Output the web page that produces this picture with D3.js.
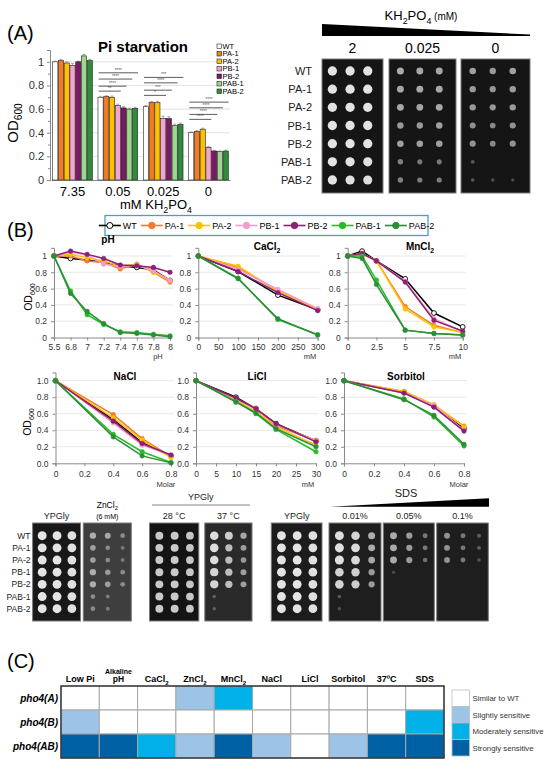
<!DOCTYPE html>
<html>
<head>
<meta charset="utf-8">
<script src="https://cdn.jsdelivr.net/npm/d3@7"></script>
<style>
body { margin: 0; background: #fff; }
svg { display: block; font-family: "Liberation Sans", Arial, sans-serif; }
</style>
</head>
<body>
<svg id="fig" width="550" height="764"></svg>
<script>
// ---- data ----
const strains = ["WT", "PA-1", "PA-2", "PB-1", "PB-2", "PAB-1", "PAB-2"];
const barColors = ["#ffffff", "#f47b20", "#ffc000", "#f5a3d2", "#7a1a63", "#9dd68f", "#2f8c3c"];
const lineColors = ["#000000", "#f47b2c", "#ffc000", "#f59bcd", "#8e1f74", "#22bf22", "#2e8b3a"];

// (A) Pi starvation, OD600 per KH2PO4 level (rows) and strain (cols)
const piGroups = ["7.35", "0.05", "0.025", "0"];
const piOD = [
  [1.00, 1.01, 0.99, 0.97, 1.00, 1.05, 1.01],
  [0.70, 0.705, 0.70, 0.63, 0.61, 0.60, 0.605],
  [0.62, 0.655, 0.655, 0.52, 0.52, 0.46, 0.47],
  [0.40, 0.41, 0.43, 0.275, 0.245, 0.24, 0.245]
];
const piErr = [
  [0.005, 0.01, 0.01, 0.015, 0.005, 0.012, 0.01],
  [0.008, 0.008, 0.01, 0.012, 0.01, 0.008, 0.01],
  [0.01, 0.01, 0.012, 0.02, 0.015, 0.012, 0.012],
  [0.006, 0.008, 0.008, 0.008, 0.006, 0.006, 0.008]
];
const piTicks = [0, 0.2, 0.4, 0.6, 0.8, 1];
const sigTargets = [3, 4, 5, 6];   // WT vs PB-1, PB-2, PAB-1, PAB-2
const sigHeights = [[], [0.752, 0.794, 0.854, 0.907], [0.716, 0.76, 0.822, 0.868], [0.513, 0.555, 0.611, 0.659]];
const sigLabels = [[], ["**", "****", "****", "****"], ["*", "***", "****", "***"], ["****", "****", "****", "****"]];

// (A) spot plates, growth score 0..1 per strain x dilution
const kh2po4Plates = ["2", "0.025", "0"];
const kh2po4Growth = [
  [[.95, .95, .95], [.95, .95, .95], [.95, .95, .95], [.95, .95, .95], [.95, .95, .95], [.95, .95, .93], [.95, .93, .92]],
  [[.62, .6, .6], [.6, .6, .6], [.6, .58, .6], [.52, .52, .55], [.55, .55, .55], [.38, .33, .33], [.38, .35, .35]],
  [[.55, .52, .56], [.52, .5, .53], [.52, .5, .52], [.46, .42, .48], [.48, .42, .48], [.15, 0, 0], [.12, .08, .06]]
];

// (B) growth curves
const phLevels = ["5.5", "6.8", "7", "7.2", "7.4", "7.6", "7.8", "8"];
const phOD = [
  [1, 0.97, 0.95, 0.92, 0.88, 0.86, 0.83, 0.70],
  [1, 1.00, 0.94, 0.92, 0.84, 0.90, 0.80, 0.68],
  [1, 1.02, 0.98, 0.94, 0.87, 0.90, 0.80, 0.70],
  [1, 1.05, 1.01, 0.90, 0.87, 0.89, 0.82, 0.70],
  [1, 1.06, 1.02, 0.97, 0.89, 0.88, 0.86, 0.80],
  [1, 0.57, 0.28, 0.16, 0.07, 0.06, 0.04, 0.02],
  [1, 0.54, 0.32, 0.17, 0.06, 0.05, 0.03, 0.01]
];
const cacl2mM = [0, 100, 200, 300];
const cacl2OD = [
  [1, 0.81, 0.52, 0.34], [1, 0.86, 0.57, 0.34], [1, 0.875, 0.57, 0.35], [1, 0.835, 0.59, 0.355],
  [1, 0.81, 0.55, 0.33], [1, 0.73, 0.22, 0.035], [1, 0.72, 0.23, 0.03]
];
const mncl2mM = [0, 1.25, 2.5, 5, 7.5, 10];
const mncl2OD = [
  [1, 1.06, 0.94, 0.72, 0.30, 0.13],
  [1, 1.03, 0.94, 0.38, 0.15, 0.06],
  [1, 1.02, 0.94, 0.35, 0.13, 0.06],
  [1, 1.03, 0.94, 0.69, 0.23, 0.07],
  [1, 1.03, 0.94, 0.68, 0.21, 0.08],
  [1, 1.00, 0.705, 0.09, 0.05, 0.03],
  [1, 0.97, 0.65, 0.09, 0.05, 0.03]
];
const naclM = [0, 0.4, 0.6, 0.8];
const naclOD = [
  [1, 0.53, 0.25, 0.09], [1, 0.59, 0.30, 0.08], [1, 0.55, 0.28, 0.07], [1, 0.49, 0.22, 0.10],
  [1, 0.51, 0.24, 0.10], [1, 0.35, 0.14, 0.01], [1, 0.32, 0.09, 0.005]
];
const liclmM = [0, 10, 15, 20, 30];
const liclOD = [
  [1, 0.80, 0.66, 0.48, 0.27], [1, 0.77, 0.67, 0.45, 0.28], [1, 0.76, 0.63, 0.44, 0.22], [1, 0.78, 0.66, 0.47, 0.27],
  [1, 0.79, 0.66, 0.48, 0.26], [1, 0.75, 0.60, 0.41, 0.14], [1, 0.74, 0.61, 0.42, 0.20]
];
const sorbitolM = [0, 0.4, 0.6, 0.8];
const sorbitolOD = [
  [1, 0.86, 0.69, 0.42], [1, 0.87, 0.70, 0.45], [1, 0.87, 0.71, 0.44], [1, 0.85, 0.70, 0.40],
  [1, 0.85, 0.68, 0.39], [1, 0.78, 0.56, 0.21], [1, 0.77, 0.58, 0.23]
];

// (B) stress spot plates
const stressPlates = ["YPGly", "ZnCl2", "28 °C", "37 °C", "YPGly", "0.01%", "0.05%", "0.1%"];
const full = [.95, .95, .93];
const stressGrowth = [
  [full, full, full, full, full, full, full],
  [[.55, .5, .3], [.45, .3, .18], [.45, .3, .18], [.55, .42, .3], [.55, .45, .3], [.3, .18, 0], [.3, .18, 0]],
  [[.8, .8, .78], [.8, .8, .78], [.8, .8, .78], [.8, .8, .78], [.8, .8, .78], [.8, .8, .78], [.8, .8, .78]],
  [[.9, .8, .55], [.9, .7, .5], [.9, .7, .45], [.85, .7, .5], [.85, .7, .5], [.1, 0, 0], [.1, 0, 0]],
  [full, full, full, full, full, full, full],
  [[.9, .85, .62], [.92, .88, .6], [.92, .88, .58], [.85, .82, .5], [.85, .8, .5], [.1, 0, 0], [.06, 0, 0]],
  [[.6, .5, .3], [.6, .5, .3], [.6, .5, .25], [.04, 0, 0], [0, 0, 0], [0, 0, 0], [0, 0, 0]],
  [[.45, .3, .15], [.45, .3, .15], [.45, .3, .1], [0, 0, 0], [0, 0, 0], [0, 0, 0], [0, 0, 0]]
];

// (C) sensitivity summary
const hmRows = ["pho4(A)", "pho4(B)", "pho4(AB)"];
const hmCols = ["Low Pi", "Alkaline pH", "CaCl2", "ZnCl2", "MnCl2", "NaCl", "LiCl", "Sorbitol", "37ºC", "SDS"];
const hmLevels = [
  [0, 0, 0, 1, 2, 0, 0, 0, 0, 0],
  [1, 0, 0, 0, 0, 0, 0, 0, 0, 2],
  [3, 3, 2, 1, 3, 1, 0, 1, 3, 3]
];
const hmLegend = ["Similar to WT", "Slightly sensitive", "Moderately sensitive", "Strongly sensitive"];

// ---- helpers ----
const svg = d3.select("#fig");
svg.append("rect").attr("width", 550).attr("height", 764).attr("fill", "#fff");

// split chemical names so digits become subscripts
function chem(s) {
  return s.split(/(\d+)/).filter(p => p.length).map(p => /^\d+$/.test(p) ? "_" + p : p);
}
function rich(t, parts, size) {
  parts.forEach((p, i) => {
    const sub = p.startsWith("_");
    const ts = t.append("tspan").text(sub ? p.slice(1) : p);
    if (sub) ts.attr("font-size", size * 0.68).attr("dy", size * 0.28);
    else if (i > 0 && parts[i - 1].startsWith("_")) ts.attr("dy", -size * 0.28);
  });
  return t;
}
function label(g, x, y, txt, size, opts = {}) {
  const t = g.append("text").attr("x", x).attr("y", y).attr("font-size", size)
    .attr("text-anchor", opts.anchor || "middle").attr("fill", opts.fill || "#000");
  if (opts.bold) t.attr("font-weight", "bold");
  if (opts.italic) t.attr("font-style", "italic");
  if (opts.parts) rich(t, opts.parts, size); else t.text(txt);
  return t;
}
function styleAxis(a, size) {
  a.select(".domain").attr("stroke", "#8a8a8a");
  a.selectAll(".tick line").attr("stroke", "#8a8a8a");
  a.selectAll(".tick text").attr("font-size", size).attr("fill", "#333")
    .attr("font-family", "'Liberation Sans', Arial, sans-serif");
}

const spotShade = d3.scaleLinear().domain([0, 1]).range([0.2, 1]);
function drawPlate(g, x0, x1, y0, y1, rows, grid, bg, rmax, frac) {
  g.append("rect").attr("x", x0).attr("y", y0).attr("width", x1 - x0).attr("height", y1 - y0)
    .attr("fill", bg).attr("stroke", "#7a7a7a").attr("stroke-width", 1);
  const cx = d3.scalePoint().domain([0, 1, 2]).range([x0 + frac[0] * (x1 - x0), x0 + frac[1] * (x1 - x0)]);
  const r = d3.scaleLinear().domain([0, 1]).range([0.3 * rmax, rmax]);
  const spots = grid.flatMap((row, ri) => row.map((v, ci) => ({ ri, ci, v }))).filter(d => d.v > 0);
  g.selectAll(null).data(spots).join("circle")
    .attr("cx", d => cx(d.ci)).attr("cy", d => rows(strains[d.ri]))
    .attr("r", d => r(d.v))
    .attr("fill", d => d3.interpolateRgb(bg, "#ececec")(spotShade(d.v)));
}

// ---- panel labels ----
label(svg, 7, 40, "(A)", 20, { anchor: "start" });
label(svg, 7, 237, "(B)", 20, { anchor: "start" });
label(svg, 7, 668, "(C)", 20, { anchor: "start" });

// ---- (A) bar chart ----
const gA = svg.append("g");
const bx = d3.scaleBand().domain(piGroups).range([51, 230]).paddingInner(0.11).paddingOuter(0.03);
const bIn = d3.scaleBand().domain(strains).range([0, bx.bandwidth()]);
const by = d3.scaleLinear().domain([0, 1.1]).range([180, 50]);

gA.selectAll(null).data(piTicks.slice(1)).join("line")
  .attr("x1", 50).attr("x2", 230).attr("y1", d => by(d)).attr("y2", d => by(d))
  .attr("stroke", "#dcdcdc").attr("stroke-width", 0.8);

const yA = gA.append("g").attr("transform", "translate(50,0)")
  .call(d3.axisLeft(by).tickValues(piTicks).tickFormat(d3.format(".1~f")).tickSize(3));
styleAxis(yA, 11);
const yAm = gA.append("g").attr("transform", "translate(50,0)")
  .call(d3.axisLeft(by).tickValues([0.1, 0.3, 0.5, 0.7, 0.9, 1.1]).tickFormat("").tickSize(2));
styleAxis(yAm, 11);

const xA = gA.append("g").attr("transform", "translate(0,180)")
  .call(d3.axisBottom(bx).tickSize(0).tickPadding(7));
styleAxis(xA, 13);
xA.selectAll(".tick text").attr("fill", "#000");

const bars = piOD.flatMap((row, gi) => row.map((v, si) => ({ g: piGroups[gi], si, v, e: piErr[gi][si] })));
gA.selectAll(null).data(bars).join("line")
  .attr("x1", d => bx(d.g) + bIn(strains[d.si]) + bIn.bandwidth() / 2)
  .attr("x2", d => bx(d.g) + bIn(strains[d.si]) + bIn.bandwidth() / 2)
  .attr("y1", d => by(d.v)).attr("y2", d => by(d.v + d.e))
  .attr("stroke", "#777").attr("stroke-width", 0.6);
gA.selectAll(null).data(bars).join("line")
  .attr("x1", d => bx(d.g) + bIn(strains[d.si]) + 1.3)
  .attr("x2", d => bx(d.g) + bIn(strains[d.si]) + bIn.bandwidth() - 1.3)
  .attr("y1", d => by(d.v + d.e)).attr("y2", d => by(d.v + d.e))
  .attr("stroke", "#777").attr("stroke-width", 0.6);
gA.selectAll(null).data(bars).join("rect")
  .attr("x", d => bx(d.g) + bIn(strains[d.si]) + 0.3)
  .attr("y", d => by(d.v))
  .attr("width", bIn.bandwidth() - 0.6)
  .attr("height", d => by(0) - by(d.v))
  .attr("fill", d => barColors[d.si]).attr("stroke", "#222").attr("stroke-width", 0.6);

// significance brackets
piGroups.forEach((g, gi) => {
  sigHeights[gi].forEach((h, k) => {
    const xa = bx(g) + bIn("WT") + 1;
    const xb = bx(g) + bIn(strains[sigTargets[k]]) + bIn.bandwidth();
    gA.append("line").attr("x1", xa).attr("x2", xb).attr("y1", by(h)).attr("y2", by(h))
      .attr("stroke", "#333").attr("stroke-width", 0.8);
    label(gA, (xa + xb) / 2, by(h) - 1, sigLabels[gi][k], 4.5, { fill: "#555" });
  });
});

label(gA, 143, 52, "Pi starvation", 15, { bold: true });
label(gA, 156, 209, "", 13, { parts: ["mM KH", "_2", "PO", "_4"] });
label(gA, 0, 0, "", 15, { parts: ["OD", "_600"] }).attr("transform", "translate(18,123) rotate(-90)");

strains.forEach((s, i) => {
  gA.append("rect").attr("x", 217).attr("y", 44 + i * 7.5).attr("width", 4.5).attr("height", 4.5)
    .attr("fill", barColors[i]).attr("stroke", "#222").attr("stroke-width", 0.6);
  label(gA, 222.5, 48.8 + i * 7.5, s, 7.5, { anchor: "start" });
});

// ---- (A) KH2PO4 spot plates ----
const gP = svg.append("g");
const plateA = [[322, 383], [389, 456], [461, 530]];
const rowA = d3.scalePoint().domain(strains).range([71, 180]);
label(gP, 421, 20, "", 13, { parts: ["KH", "_2", "PO", "_4"] })
  .append("tspan").attr("font-size", 10).attr("dy", -13 * 0.28).text(" (mM)");
gP.append("polygon").attr("points", "322,24 530,34.6 530,36 322,36").attr("fill", "#000");
kh2po4Plates.forEach((p, i) => {
  const [x0, x1] = plateA[i];
  label(gP, (x0 + x1) / 2, 53, p, 14);
  drawPlate(gP, x0, x1, 59, 193, rowA, kh2po4Growth[i], "#151515", 4.8, [0.17, 0.75]);
});
strains.forEach(s => label(gP, 312, rowA(s) + 4, s, 11, { anchor: "end", fill: "#222" }));

// ---- (B) legend ----
const gL = svg.append("g");
gL.append("rect").attr("x", 105).attr("y", 215.5).attr("width", 323).attr("height", 20)
  .attr("fill", "#fff").attr("stroke", "#4a9fc0").attr("stroke-width", 1.3);
const legItems = strains.map((s, i) => {
  const t = label(gL, 0, 229, s, 9, { anchor: "start" });
  return { s, i, t, w: t.node().getComputedTextLength() };
});
const lineLen = 22, gapT = 2, gapI = 4;
const totalW = d3.sum(legItems, d => lineLen + gapT + d.w) + gapI * (legItems.length - 1);
let lx = 105 + (323 - totalW) / 2;
legItems.forEach(d => {
  gL.append("line").attr("x1", lx).attr("x2", lx + lineLen).attr("y1", 225.5).attr("y2", 225.5)
    .attr("stroke", lineColors[d.i]).attr("stroke-width", 1.6);
  gL.append("circle").attr("cx", lx + lineLen / 2).attr("cy", 225.5).attr("r", d.i === 0 ? 3 : 3.2)
    .attr("fill", d.i === 0 ? "#fff" : lineColors[d.i]).attr("stroke", lineColors[d.i]).attr("stroke-width", 1);
  d.t.attr("x", lx + lineLen + gapT);
  lx += lineLen + gapT + d.w + gapI;
});

// ---- (B) line charts ----
const row1 = { base: 337.5, unit: 81.5, tickY: 349.5, unitY: 359, fmt: ".1~f" };
const row2 = { base: 463.3, unit: 82.6, tickY: 477, unitY: 487, fmt: ".1f" };
const charts = [
  { row: row1, title: "pH", titleY: 243, tx: 108, xs: phLevels, ys: phOD, cat: true, x0: 54, x1: 170, unitTxt: "pH", ux: 158 },
  { row: row1, title: "CaCl2", titleY: 250, tx: 267, xs: cacl2mM, ys: cacl2OD, dom: [0, 300], ticks: d3.range(0, 301, 50), x0: 198.3, x1: 317.7, unitTxt: "mM", ux: 310 },
  { row: row1, title: "MnCl2", titleY: 250, tx: 420, xs: mncl2mM, ys: mncl2OD, dom: [0, 10], ticks: [0, 2.5, 5, 7.5, 10], x0: 347.7, x1: 462.7, unitTxt: "mM", ux: 455 },
  { row: row2, title: "NaCl", titleY: 380, tx: 125, xs: naclM, ys: naclOD, dom: [0, 0.8], ticks: [0, 0.2, 0.4, 0.6, 0.8], x0: 55.5, x1: 171, unitTxt: "Molar", ux: 166 },
  { row: row2, title: "LiCl", titleY: 380, tx: 257, xs: liclmM, ys: liclOD, dom: [0, 30], ticks: d3.range(0, 31, 5), x0: 196, x1: 316, unitTxt: "mM", ux: 308 },
  { row: row2, title: "Sorbitol", titleY: 380, tx: 406, xs: sorbitolM, ys: sorbitolOD, dom: [0, 0.8], ticks: [0, 0.2, 0.4, 0.6, 0.8], x0: 344, x1: 464, unitTxt: "Molar", ux: 459 }
];

charts.forEach(c => {
  const g = svg.append("g");
  const R = c.row;
  const y = d3.scaleLinear().domain([0, 1.1]).range([R.base, R.base - 1.1 * R.unit]);
  const x = c.cat ? d3.scalePoint().domain(c.xs).range([c.x0, c.x1])
                  : d3.scaleLinear().domain(c.dom).range([c.x0, c.x1]);
  g.selectAll(null).data([0.2, 0.4, 0.6, 0.8, 1]).join("line")
    .attr("x1", c.x0).attr("x2", c.x1 + 3).attr("y1", d => y(d)).attr("y2", d => y(d))
    .attr("stroke", "#e2e2e2").attr("stroke-width", 0.8);
  const ya = g.append("g").attr("transform", `translate(${c.x0},0)`)
    .call(d3.axisLeft(y).tickValues([0, 0.2, 0.4, 0.6, 0.8, 1]).tickFormat(d3.format(R.fmt)).tickSize(3).tickPadding(4));
  styleAxis(ya, 8.5);
  const xAxis = c.cat ? d3.axisBottom(x) : d3.axisBottom(x).tickValues(c.ticks).tickFormat(d3.format("~g"));
  const xa = g.append("g").attr("transform", `translate(0,${R.base})`).call(xAxis.tickSize(3).tickPadding(3));
  styleAxis(xa, 8.5);
  xa.selectAll(".tick text").attr("y", R.tickY - R.base).attr("dy", 0);

  label(g, c.tx, c.titleY, "", 10, { bold: true, parts: chem(c.title) });
  label(g, c.ux, R.unitY, c.unitTxt, 7.5, { fill: "#333" });

  const line = d3.line().x((d, i) => x(c.xs[i])).y(d => y(d));
  c.ys.forEach((vals, si) => {
    g.append("path").attr("d", line(vals)).attr("fill", "none")
      .attr("stroke", lineColors[si]).attr("stroke-width", 1.5);
    g.selectAll(null).data(vals).join("circle")
      .attr("cx", (d, i) => x(c.xs[i])).attr("cy", d => y(d))
      .attr("r", si === 0 ? 2.4 : 2.3)
      .attr("fill", si === 0 ? "#fff" : lineColors[si])
      .attr("stroke", lineColors[si]).attr("stroke-width", si === 0 ? 0.9 : 0.5);
  });
});
label(svg, 0, 0, "", 10.5, { parts: ["OD", "_600"] }).attr("transform", "translate(32,297) rotate(-90)");
label(svg, 0, 0, "", 10.5, { parts: ["OD", "_600"] }).attr("transform", "translate(31,422) rotate(-90)");

// ---- (B) stress spot plates ----
const gS = svg.append("g");
const stressX = [[32.6, 80.5], [83.3, 131.3], [149.5, 198.8], [204.8, 252], [271.3, 322], [329, 381], [383.3, 434.3], [436.7, 488.3]];
const stressBg = ["#181818", "#3e3e3e", "#141414", "#2a2a2a", "#1c1c1c", "#1e1e1e", "#1e1e1e", "#1e1e1e"];
const stressR = [4.6, 4.6, 4.6, 4.6, 4.6, 4.8, 4.8, 4.8];
const rowS = d3.scalePoint().domain(strains).range([535.7, 608.7]);
stressPlates.forEach((p, i) => {
  const [x0, x1] = stressX[i];
  const cx = (x0 + x1) / 2;
  drawPlate(gS, x0, x1, 523, 621, rowS, stressGrowth[i], stressBg[i], stressR[i], [0.2, 0.82]);
  if (p === "ZnCl2") {
    label(gS, cx, 508, "", 8.5, { parts: chem(p) });
    label(gS, cx, 518.5, "(6 mM)", 7);
  } else {
    label(gS, cx, 519, p, 9, { fill: "#222" });
  }
});
strains.forEach(s => label(gS, 30.5, rowS(s) + 3, s, 8.5, { anchor: "end", fill: "#222" }));
label(gS, 200.8, 500, "YPGly", 9, { fill: "#222" });
gS.append("line").attr("x1", 152).attr("x2", 250).attr("y1", 505).attr("y2", 505)
  .attr("stroke", "#666").attr("stroke-width", 0.8);
label(gS, 406, 497, "SDS", 11, { fill: "#222" });
gS.append("polygon").attr("points", "330,506.7 489,498.3 489,506.7").attr("fill", "#000");

// ---- (C) heatmap ----
const gH = svg.append("g");
const hx = d3.scaleBand().domain(hmCols).range([61, 444]);
const hy = d3.scaleBand().domain(hmRows).range([686, 758]);
const hColor = d3.scaleOrdinal().domain([0, 1, 2, 3]).range(["#ffffff", "#9dc3e6", "#00b0e6", "#0060a4"]);
const cells = hmLevels.flatMap((row, ri) => row.map((v, ci) => ({ r: hmRows[ri], c: hmCols[ci], v })));
gH.selectAll(null).data(cells).join("rect")
  .attr("x", d => hx(d.c)).attr("y", d => hy(d.r))
  .attr("width", hx.bandwidth()).attr("height", hy.bandwidth())
  .attr("fill", d => hColor(d.v)).attr("stroke", "#a8a8a8").attr("stroke-width", 1);
gH.append("rect").attr("x", 61).attr("y", 686).attr("width", 383).attr("height", 72)
  .attr("fill", "none").attr("stroke", "#222").attr("stroke-width", 1.3);
hmCols.forEach(c => {
  const cx = hx(c) + hx.bandwidth() / 2;
  if (c === "Alkaline pH") {
    label(gH, cx, 673.5, "Alkaline", 7, { bold: true });
    label(gH, cx, 682, "pH", 8.5, { bold: true });
  } else {
    const parts = /Cl\d/.test(c) ? chem(c) : [c];
    label(gH, cx, 682, "", 9, { bold: true, parts });
  }
});
hmRows.forEach(r => label(gH, 58, hy(r) + hy.bandwidth() / 2 + 3.5, r, 10, { anchor: "end", bold: true, italic: true }));
hmLegend.forEach((t, i) => {
  gH.append("rect").attr("x", 452).attr("y", 690 + i * 16.5).attr("width", 17.5).attr("height", 16.5)
    .attr("fill", hColor(i)).attr("stroke", "#bdbdbd").attr("stroke-width", 0.8);
  label(gH, 472.5, 701 + i * 16.5, t, 7.8, { anchor: "start", fill: "#333" });
});
</script>
</body>
</html>
